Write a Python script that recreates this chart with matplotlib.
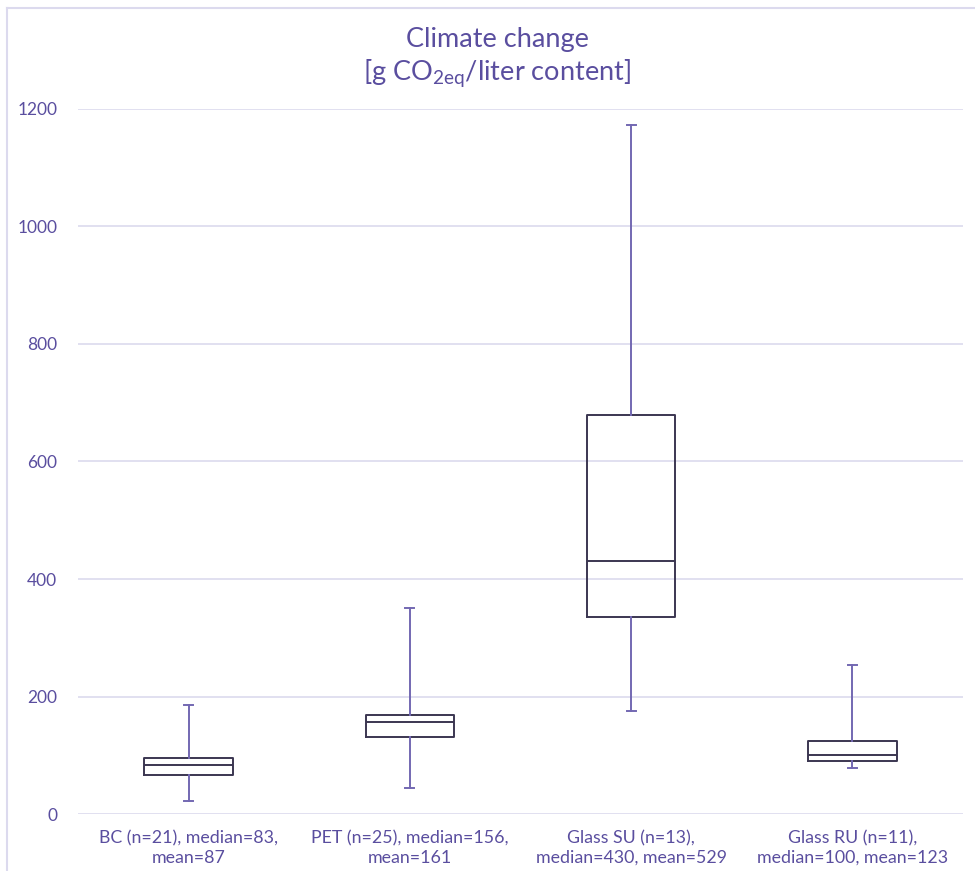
import matplotlib
matplotlib.use("Agg")
import matplotlib.pyplot as plt
from matplotlib.lines import Line2D

plt.rcParams['font.family'] = ['Lato', 'DejaVu Sans']
plt.rcParams['mathtext.default'] = 'regular'

categories = ["BC (n=21), median=83,\nmean=87",
              "PET (n=25), median=156,\nmean=161",
              "Glass SU (n=13),\nmedian=430, mean=529",
              "Glass RU (n=11),\nmedian=100, mean=123"]
whislo = [22, 44, 175, 78]
q1 = [67, 131, 335, 91]
med = [83, 156, 430, 100]
q3 = [95, 168, 679, 125]
whishi = [185, 350, 1173, 253]
yticks = [0, 200, 400, 600, 800, 1000, 1200]

TEXT = '#5A4E9F'
WHISK = '#7368B2'
BOXC = '#3B3651'
GRID = '#DCDAEE'

W, H = 975, 871
fig = plt.figure(figsize=(W / 100, H / 100), dpi=100)
ax = fig.add_axes([78 / W, (H - 814) / H, (963 - 78) / W, (814 - 109) / H])

stats = []
for i in range(len(categories)):
    stats.append(dict(label=categories[i], whislo=whislo[i], q1=q1[i], med=med[i],
                      q3=q3[i], whishi=whishi[i], fliers=[]))

ax.bxp(stats, positions=range(len(categories)), widths=0.4, capwidths=0.04,
       showfliers=False, patch_artist=False,
       boxprops=dict(color=BOXC, linewidth=1.4),
       medianprops=dict(color=BOXC, linewidth=1.4),
       whiskerprops=dict(color=WHISK, linewidth=1.4),
       capprops=dict(color=WHISK, linewidth=1.4))

ax.set_xlim(-0.5, len(categories) - 0.5)
ax.set_ylim(0, 1200)
ax.set_yticks(yticks)
ax.set_yticklabels([str(v) for v in yticks])
ax.grid(axis='y', color=GRID, linewidth=1.2)
ax.set_axisbelow(True)
for s in ax.spines.values():
    s.set_visible(False)
ax.tick_params(axis='y', length=0, pad=15, labelsize=12.5, labelcolor=TEXT)
ax.tick_params(axis='x', length=0, pad=12, labelsize=12.8, labelcolor=TEXT)
for lab in ax.get_xticklabels():
    lab.set_linespacing(1.25)

fig.text(497 / W, 1 - 40 / H, "Climate change", ha='center', va='center',
         fontsize=19.5, color=TEXT)
fig.text(497 / W, 1 - 73 / H, "[g CO$_{2eq}$/liter content]", ha='center', va='center',
         fontsize=19.5, color=TEXT)

fig.add_artist(Line2D([7 / W, 1], [1 - 8 / H, 1 - 8 / H], transform=fig.transFigure,
                      color=GRID, linewidth=1.5))
fig.add_artist(Line2D([7 / W, 7 / W], [0, 1 - 8 / H], transform=fig.transFigure,
                      color=GRID, linewidth=1.5))

fig.savefig("out.png", dpi=100, facecolor='white')
